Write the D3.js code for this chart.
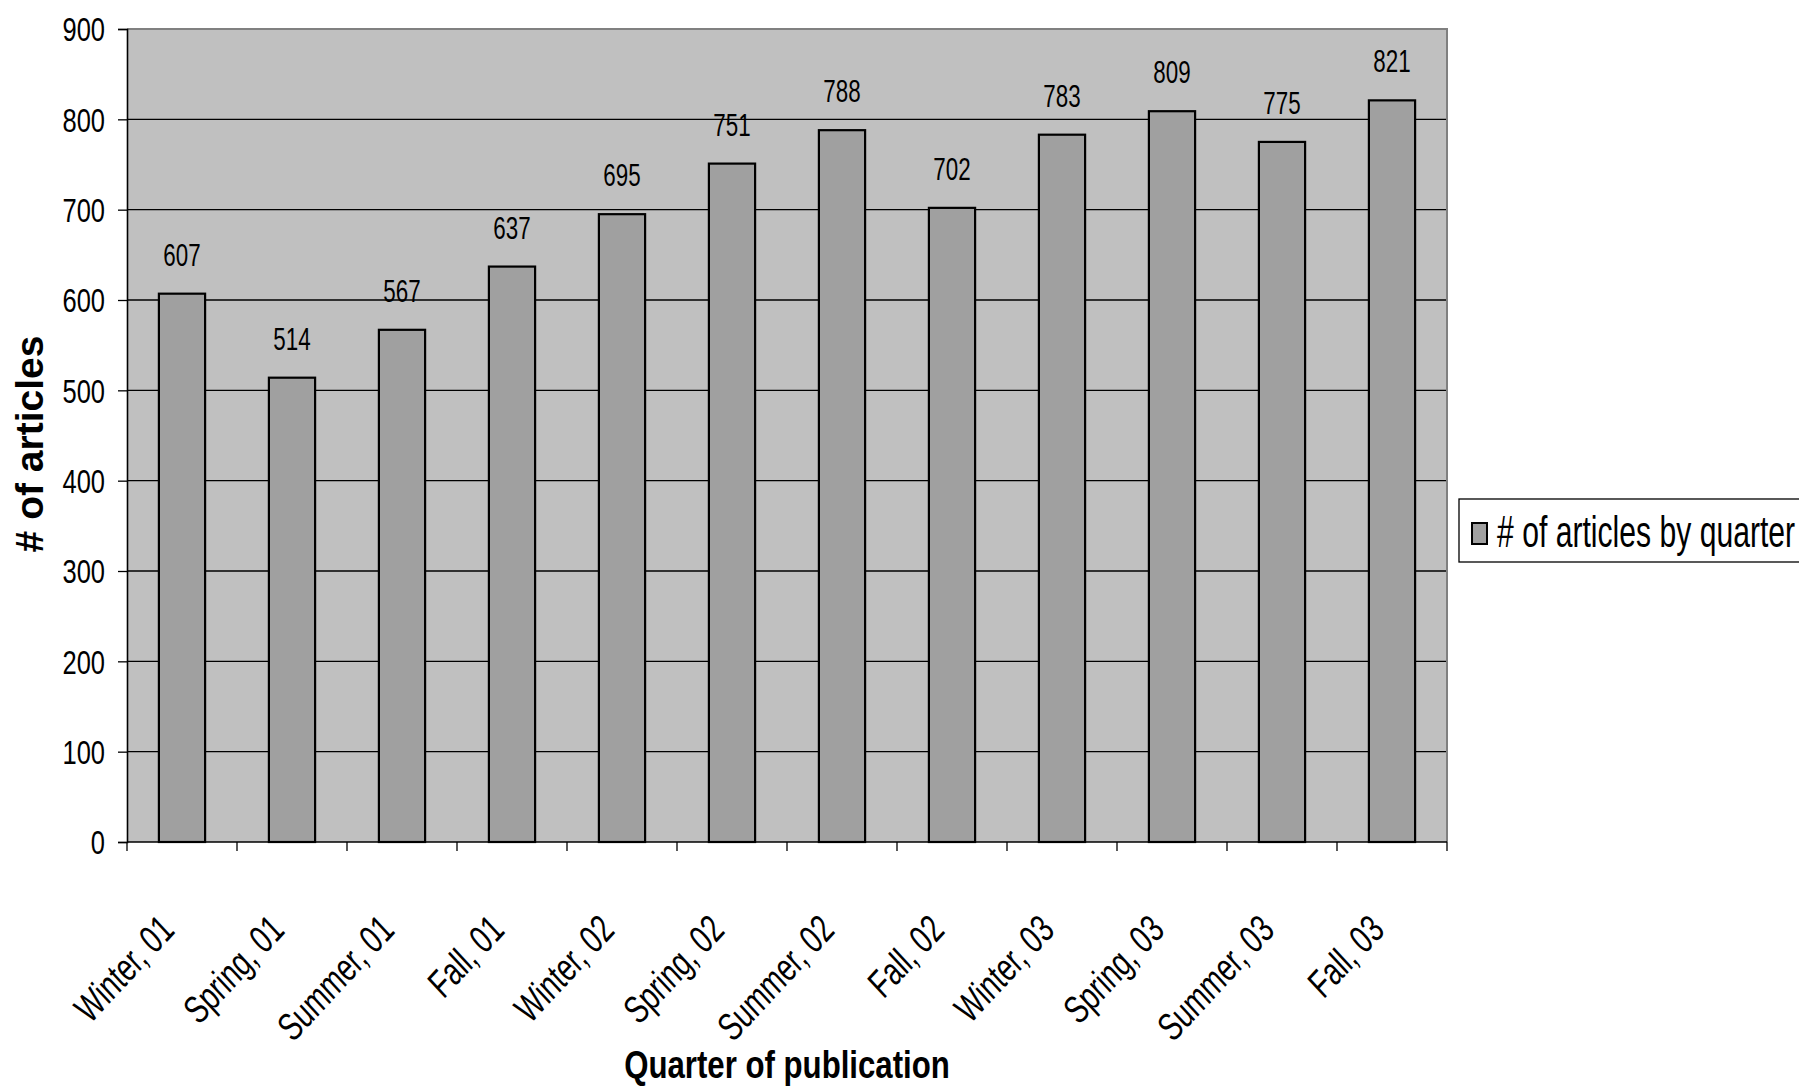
<!DOCTYPE html>
<html>
<head>
<meta charset="utf-8">
<script src="https://cdn.jsdelivr.net/npm/d3@7"></script>
<style>
    body { margin: 0; background: #fff; }
    .svg { display: block; }
    text { font-family: "Liberation Sans", Arial, sans-serif; fill: #000; }
</style>
</head>
<body>
<svg class="svg" width="1799" height="1091"></svg>
<script>
let quarters = ['Winter, 01','Spring, 01','Summer, 01','Fall, 01','Winter, 02','Spring, 02',
    'Summer, 02','Fall, 02','Winter, 03','Spring, 03','Summer, 03','Fall, 03'];
let articleCounts = [607, 514, 567, 637, 695, 751, 788, 702, 783, 809, 775, 821];
let yTicks = [0, 100, 200, 300, 400, 500, 600, 700, 800, 900];
let seriesName = '# of articles by quarter';

let plotLeft = 127;
let plotRight = 1447;
let plotTop = 29;
let plotBottom = 842;

let svg = d3.select('.svg');

let x = d3.scaleBand()
    .domain(quarters)
    .range([plotLeft, plotRight])
    .paddingInner(0.58)
    .paddingOuter(0.29);

let y = d3.scaleLinear()
    .domain([0, 900])
    .range([plotBottom, plotTop]);

// narrow text: the original uses a condensed face, so squeeze Liberation Sans
// sy stretches the whole (rotated) label vertically, like the source picture
function narrow(sel, tx, ty, rot, sx, sy) {
    return sel.attr('transform', function (d, i) {
        let px = typeof tx === 'function' ? tx(d, i) : tx;
        let py = typeof ty === 'function' ? ty(d, i) : ty;
        return 'translate(' + px + ',' + py + ') scale(1,' + (sy || 1) + ') rotate(' + rot + ') scale(' + sx + ',1)';
    });
}

function drawPlotArea() {
    svg.append('rect')
        .attr('x', plotLeft)
        .attr('y', plotTop)
        .attr('width', plotRight - plotLeft)
        .attr('height', plotBottom - plotTop)
        .attr('fill', '#c0c0c0');

    // gridlines
    svg.append('g')
        .selectAll('line')
        .data(yTicks.filter(function (d) { return d > 0 && d < 900; }))
        .enter()
        .append('line')
        .attr('x1', plotLeft)
        .attr('x2', plotRight)
        .attr('y1', function (d) { return y(d); })
        .attr('y2', function (d) { return y(d); })
        .style('stroke', '#000')
        .style('stroke-width', '1.3');

    // grey frame on top and right
    svg.append('path')
        .attr('d', 'M' + plotLeft + ',' + plotTop + 'H' + plotRight + 'V' + plotBottom)
        .attr('fill', 'none')
        .style('stroke', '#808080')
        .style('stroke-width', '2');
}

function drawAxes() {
    let yAxis = d3.axisLeft(y)
        .tickValues(yTicks)
        .tickSize(9)
        .tickFormat('');
    let gy = svg.append('g')
        .attr('transform', 'translate(' + plotLeft + ',0)')
        .call(yAxis);
    gy.select('.domain').style('stroke', '#000').style('stroke-width', '1.6');
    gy.selectAll('.tick line').style('stroke', '#000').style('stroke-width', '1.3');

    let yLabels = svg.append('g')
        .selectAll('text')
        .data(yTicks)
        .enter()
        .append('text')
        .attr('text-anchor', 'end')
        .attr('font-size', '34px')
        .attr('dy', '0.36em')
        .text(function (d) { return d; });
    narrow(yLabels, 105, function (d) { return y(d); }, 0, 0.75);

    // x axis line
    svg.append('line')
        .attr('x1', plotLeft)
        .attr('x2', plotRight)
        .attr('y1', plotBottom)
        .attr('y2', plotBottom)
        .style('stroke', '#000')
        .style('stroke-width', '1.6');

    // tick marks on category boundaries
    let bounds = d3.range(quarters.length + 1);
    svg.append('g')
        .selectAll('line')
        .data(bounds)
        .enter()
        .append('line')
        .attr('x1', function (d) { return plotLeft + d * x.step(); })
        .attr('x2', function (d) { return plotLeft + d * x.step(); })
        .attr('y1', plotBottom)
        .attr('y2', plotBottom + 9)
        .style('stroke', '#000')
        .style('stroke-width', '1.3');

    let xLabels = svg.append('g')
        .selectAll('text')
        .data(quarters)
        .enter()
        .append('text')
        .attr('text-anchor', 'end')
        .attr('font-size', '37px')
        .text(function (d) { return d; });
    narrow(xLabels, function (d) { return x(d) + x.bandwidth() / 2 - 6; }, plotBottom + 90, -45, 0.73, 1.08);

    let xTitle = svg.append('text')
        .attr('text-anchor', 'middle')
        .attr('font-size', '39px')
        .attr('font-weight', 'bold')
        .text('Quarter of publication');
    narrow(xTitle, (plotLeft + plotRight) / 2, 1078, 0, 0.8);

    let yTitle = svg.append('text')
        .attr('text-anchor', 'middle')
        .attr('font-size', '39px')
        .attr('font-weight', 'bold')
        .text('# of articles');
    narrow(yTitle, 43, 444, -90, 1);
}

function drawBars() {
    let bar = svg.append('g')
        .selectAll('g')
        .data(articleCounts)
        .enter()
        .append('g')
        .attr('class', 'barG');

    bar.append('rect')
        .attr('x', function (d, i) { return x(quarters[i]); })
        .attr('y', function (d) { return y(d); })
        .attr('width', x.bandwidth())
        .attr('height', function (d) { return plotBottom - y(d); })
        .attr('fill', '#a0a0a0')
        .style('stroke', '#000')
        .style('stroke-width', '2.2');

    let vals = bar.append('text')
        .attr('text-anchor', 'middle')
        .attr('font-size', '32px')
        .text(function (d) { return d; });
    narrow(vals, function (d, i) { return x(quarters[i]) + x.bandwidth() / 2; },
        function (d) { return y(d) - 28; }, 0, 0.7);
}

function drawLegend() {
    let lg = svg.append('g').attr('class', 'legend');
    lg.append('rect')
        .attr('x', 1459)
        .attr('y', 499)
        .attr('width', 360)
        .attr('height', 63)
        .attr('fill', '#fff')
        .style('stroke', '#000')
        .style('stroke-width', '1.3');
    lg.append('rect')
        .attr('x', 1472)
        .attr('y', 523)
        .attr('width', 15)
        .attr('height', 21)
        .attr('fill', '#a0a0a0')
        .style('stroke', '#000')
        .style('stroke-width', '2');
    let lt = lg.append('text')
        .attr('font-size', '44px')
        .text(seriesName);
    narrow(lt, 1497, 547, 0, 0.685);
}

drawPlotArea();
drawBars();
drawAxes();
drawLegend();
</script>
</body>
</html>
